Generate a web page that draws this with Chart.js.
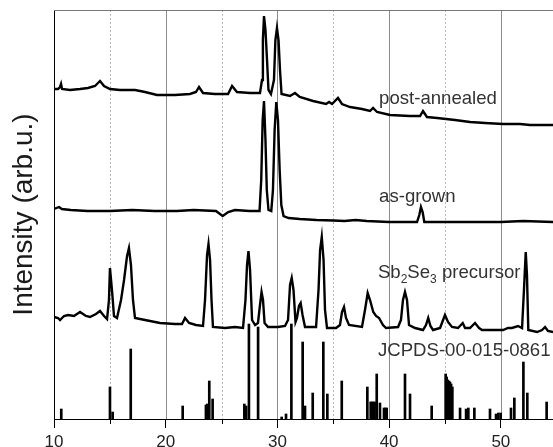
<!DOCTYPE html>
<html lang="en">
<head>
<meta charset="UTF-8">
<title>XRD patterns</title>
<script src="https://cdn.jsdelivr.net/npm/chart.js"></script>
<style>
  html, body { margin: 0; padding: 0; background: #fff; }
</style>
</head>
<body>
<canvas id="xrd" width="553" height="447"></canvas>
<script>
// 2-theta (deg) / intensity (arb. u.)
const postTheta = [10.0,10.36,10.54,10.63,10.72,11.43,12.33,13.04,13.67,14.12,14.48,15.01,15.91,17.25,18.15,19.22,20.83,22.17,22.71,22.98,23.34,24.41,25.58,25.94,26.38,27.55,28.44,28.62,28.7,28.8,28.93,29.07,29.2,29.42,29.69,29.82,29.96,30.1,30.23,30.37,31.13,31.57,32.0,33.19,34.35,34.62,34.89,35.42,35.78,36.5,37.57,38.29,38.56,38.92,40.08,41.87,42.77,43.03,43.39,44.29,45.9,47.24,48.59,50.2,51.72,52.61,54.67];
const postInt = [40,40,42,45,40,39,40,41,43,48,43,40,39,39,37,34,34,35,37,42,36,35,35,43,37,36,36,49,89,113,99,69,39,35,49,89,101,89,59,35,33,36,32,28,25,27,25,31,25,22,20,18,21,17,14,13,13,18,12,11,9,7,6,5,5,4,4];

const grownTheta = [10.0,10.45,10.7,11.5,13,15,17,19,21,22.5,24.5,25.1,25.6,26.2,27.5,28.4,28.55,28.68,28.8,28.93,29.05,29.2,29.45,29.6,29.75,29.9,30.05,30.2,30.35,30.55,31,32,33.5,35,36,37,38,40,42.5,42.7,42.85,43.0,43.15,45,48,50,52,54.67];
const grownInt = [15,17,15,14,13,13,14,13,13,14,13,8,12,14,13,13,44,104,123,84,34,14,13,34,94,122,104,54,19,8,6,5,4,3.5,3,4,3,2,2,9,17,12,2,2,2,2,3,2];

const precTheta = [10.0,10.36,10.54,10.9,11.25,11.79,12.33,12.86,13.22,13.76,14.12,14.48,14.75,14.92,15.01,15.19,15.37,15.64,16.0,16.27,16.54,16.71,16.89,17.07,17.25,18.15,19.49,20.83,21.46,21.73,22.09,22.71,23.34,23.52,23.7,23.83,23.97,24.1,24.23,25.31,26.2,26.92,27.14,27.28,27.41,27.55,27.73,28.0,28.26,28.44,28.58,28.71,28.85,29.16,30.05,30.68,30.95,31.13,31.28,31.44,31.62,31.75,31.93,32.08,32.25,32.47,33.46,33.68,33.82,33.97,34.13,34.26,34.44,35.25,35.6,35.78,35.96,36.14,36.41,37.57,37.84,38.08,38.29,38.58,38.83,39.1,39.45,39.72,40.8,41.06,41.24,41.42,41.6,41.78,42.32,43.03,43.3,43.5,43.7,43.93,44.56,44.83,45.0,45.27,45.63,46.17,46.59,46.8,47.24,47.69,48.05,48.32,49.48,50.2,50.64,51.0,51.54,51.9,52.07,52.23,52.34,52.46,53.24,53.69,53.96,54.22,54.67];
const precInt = [17,16,14,18,19,18,22,18,17,20,23,18,15,34,66,44,18,16,34,54,78,86,69,34,16,14,11,10,10,16,11,9,8,34,79,90,74,34,7,6,7,6,34,69,83,64,14,9,11,29,42,34,11,7,7,8,14,49,56,44,12,16,28,31,19,7,7,44,84,97,74,24,6,6,9,22,27,16,9,7,24,41,34,22,18,16,9,6,7,14,34,42,34,9,6,4,9,16,8,4,6,14,19,12,7,6,11,6,6,11,6,4,4,4,6,6,8,6,44,82,59,4,2,4,7,3,2];

// JCPDS 00-015-0861 reference lines
const refTheta = [10.65,15.01,15.25,16.87,21.52,23.6,23.72,23.9,24.2,27.04,27.2,27.45,28.27,30.38,30.77,31.25,32.26,32.47,33.16,34.11,34.47,35.76,38.05,38.35,38.45,38.59,38.7,38.89,39.18,39.54,39.66,39.78,41.42,41.87,43.81,45.06,45.15,45.24,45.35,45.45,45.55,45.66,46.35,46.89,47.09,47.63,49.03,49.57,49.78,49.99,50.91,51.21,52.02,52.37,54.1];
const refInt = [10,32,7,70,13,14,15,38,20,15,13,95,92,2,5,95,77,13,26,77,25,38,32,17,17,17,17,45,16,11,11,11,45,25,13,45,42,39,38,37,35,32,11,10,11,11,10,5,6,6,11,21,57,26,17];

// vertical offsets used to stack the patterns
const OFFSETS = { post: 290, grown: 195, precursor: 85, ref: 0 };

const xTicks = [10, 15, 20, 25, 30, 35, 40, 45, 50];

const FONT = 'Arial, "Liberation Sans", sans-serif';

const toPoints = (xs, ys, off) => xs.map((x, i) => ({ x: x, y: ys[i] + off }));

// text labels next to each pattern (x in deg, y in plot units, baseline)
const notes = [
  { parts: [['post-annealed']], x: 39.1, y: 315 },
  { parts: [['as-grown']], x: 39.1, y: 217 },
  { parts: [['Sb'], ['2', 1], ['Se'], ['3', 1], [' precursor']], x: 39.0, y: 141 },
  { parts: [['JCPDS-00-015-0861']], x: 39.0, y: 63 }
];

const decorPlugin = {
  id: 'decor',
  beforeDatasetsDraw(chart) {
    const { ctx, chartArea, scales } = chart;
    ctx.save();
    ctx.lineWidth = 1;
    xTicks.forEach(v => {
      if (v === 10) return;
      const px = Math.round(scales.x.getPixelForValue(v)) + 0.5;
      const major = v % 10 === 0;
      ctx.strokeStyle = major ? '#8c8c8c' : '#b8b8b8';
      ctx.setLineDash(major ? [] : [2, 2]);
      ctx.beginPath();
      ctx.moveTo(px, chartArea.top);
      ctx.lineTo(px, chartArea.bottom);
      ctx.stroke();
    });
    ctx.restore();
  },
  afterDraw(chart) {
    const { ctx, chartArea, scales } = chart;
    const xs = scales.x, ys = scales.y;
    ctx.save();
    // top frame
    ctx.strokeStyle = '#777';
    ctx.lineWidth = 1;
    ctx.beginPath();
    ctx.moveTo(chartArea.left, chartArea.top + 0.5);
    ctx.lineTo(chartArea.right, chartArea.top + 0.5);
    ctx.stroke();
    // minor ticks
    ctx.strokeStyle = '#000';
    xTicks.filter(v => v % 10 !== 0).forEach(v => {
      const px = Math.round(xs.getPixelForValue(v)) + 0.5;
      ctx.beginPath();
      ctx.moveTo(px, chartArea.bottom);
      ctx.lineTo(px, chartArea.bottom + 5);
      ctx.stroke();
    });
    // labels
    ctx.fillStyle = '#333';
    ctx.textBaseline = 'alphabetic';
    ctx.textAlign = 'left';
    notes.forEach(n => {
      let px = xs.getPixelForValue(n.x);
      const py = ys.getPixelForValue(n.y);
      n.parts.forEach(p => {
        const sub = p[1] === 1;
        ctx.font = (sub ? '12px ' : '18.6px ') + FONT;
        ctx.fillText(p[0], px, py + (sub ? 5 : 0));
        px += ctx.measureText(p[0]).width;
      });
    });
    ctx.restore();
  }
};

const lineStyle = { borderColor: '#000', borderWidth: 2.4, pointRadius: 0, tension: 0, fill: false };

new Chart(document.getElementById('xrd').getContext('2d'), {
  type: 'line',
  data: {
    datasets: [
      Object.assign({ label: 'post-annealed', data: toPoints(postTheta, postInt, OFFSETS.post) }, lineStyle),
      Object.assign({ label: 'as-grown', data: toPoints(grownTheta, grownInt, OFFSETS.grown) }, lineStyle),
      Object.assign({ label: 'Sb2Se3 precursor', data: toPoints(precTheta, precInt, OFFSETS.precursor) }, lineStyle),
      {
        type: 'bar',
        label: 'JCPDS-00-015-0861',
        data: toPoints(refTheta, refInt, OFFSETS.ref),
        backgroundColor: '#000',
        borderWidth: 0,
        barThickness: 2
      }
    ]
  },
  options: {
    responsive: false,
    animation: false,
    layout: { padding: { top: 10, left: 0, right: 0, bottom: 0 } },
    plugins: { legend: { display: false }, tooltip: { enabled: false } },
    scales: {
      x: {
        type: 'linear',
        min: 10,
        max: 54.67,
        offset: false,
        grid: {
          offset: false,
          drawOnChartArea: false,
          lineWidth: 1,
          tickLength: 9,
          tickColor: c => (c.tick && c.tick.value % 10 === 0) ? '#000' : 'rgba(0,0,0,0)'
        },
        border: { color: '#000', width: 1 },
        ticks: {
          stepSize: 5,
          includeBounds: false,
          autoSkip: false,
          maxRotation: 0,
          padding: 4,
          color: '#222',
          font: { family: FONT, size: 17 },
          callback: v => (v % 10 === 0 ? String(v) : '')
        },
        afterBuildTicks: s => { s.ticks = xTicks.map(v => ({ value: v })); },
        afterFit: s => { s.height = 28; }
      },
      y: {
        min: 0,
        max: 409,
        ticks: { display: false },
        grid: { display: false },
        border: { color: '#000', width: 1 },
        title: {
          display: true,
          text: 'Intensity (arb.u.)',
          color: '#1a1a1a',
          font: { family: FONT, size: 28 },
          padding: { top: 7, bottom: 0 }
        },
        afterFit: s => { s.width = 54; }
      }
    }
  },
  plugins: [decorPlugin]
});
</script>
</body>
</html>
